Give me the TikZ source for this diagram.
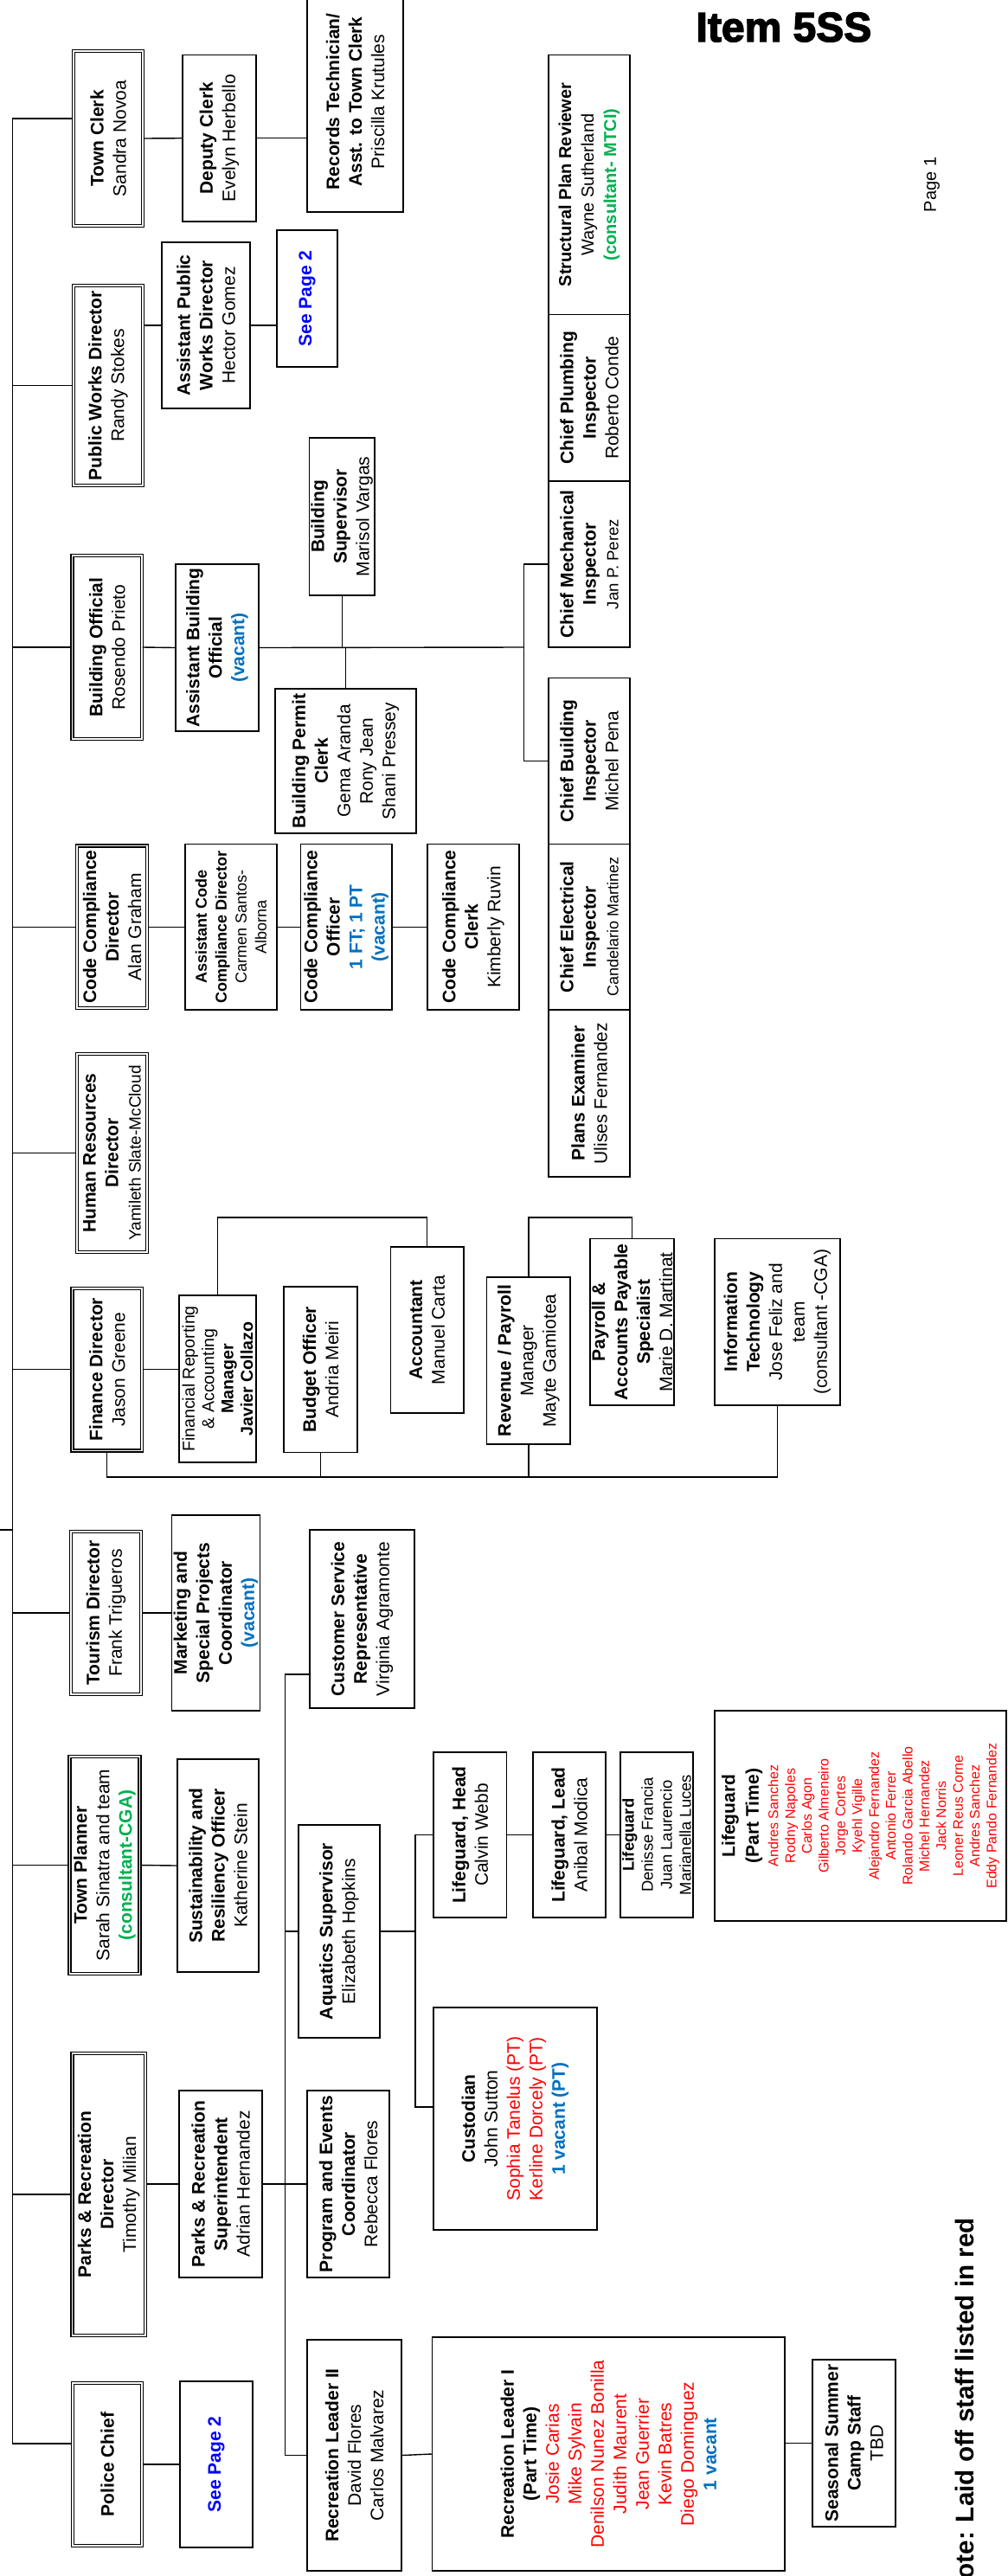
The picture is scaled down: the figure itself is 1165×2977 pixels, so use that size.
\documentclass[tikz,border=0pt]{standalone}
\usepackage{fontspec}
\setmainfont{Liberation Sans}
\newfontfamily\heavyfont{Liberation Sans}[BoldFeatures={FakeBold=3}]
\usetikzlibrary{calc}
\definecolor{seeblue}{RGB}{0,0,255}
\definecolor{vacblue}{RGB}{0,112,192}
\definecolor{consgreen}{RGB}{0,176,80}
\definecolor{laidred}{RGB}{255,0,0}
\newcommand{\vac}[1]{\textcolor{vacblue}{\textbf{#1}}}
\newcommand{\laid}[1]{\textcolor{laidred}{#1}}
\newcommand{\seepage}{\textcolor{seeblue}{\textbf{See Page 2}}}

\begin{document}
\begin{tikzpicture}[x=0.5pt, y=-0.5pt,
        every node/.style={font=\fontsize{10.5}{13}\selectfont},
        unit/.style={draw, line width=0.75pt, rotate=90, align=center, inner sep=1pt},
        dept/.style={unit, double, double distance=0.75pt},
        wh/.style 2 args={minimum height=#1*0.5pt, minimum width=#2*0.5pt},
        link/.style={line width=0.7pt}
      ]
        \useasboundingbox (0,0) rectangle (1165,2977);
        % Directors
        \node[dept, wh={80}{202}] (clerk) at (125,160) {\textbf{Town Clerk}\\Sandra Novoa};
        \node[dept, wh={80}{231}] (pwd) at (125,445.5) {\textbf{Public Works Director}\\Randy Stokes};
        \node[dept, wh={80.5}{212}] (bo) at (123.75,748) {\textbf{Building Official}\\Rosendo Prieto};
        \node[dept, wh={81}{187.5}] (ccd) at (129.5,1071.25) {\textbf{Code Compliance}\\\textbf{Director}\\Alan Graham};
        \node[dept, wh={81}{229}] (hrd) at (129.5,1332.5) {\textbf{Human Resources}\\\textbf{Director}\\{\fontsize{9.5}{13}\selectfont Yamileth Slate-McCloud}};
        \node[dept, wh={80.5}{187.5}] (fd) at (123.75,1582.75) {\textbf{Finance Director}\\Jason Greene};
        \node[dept, wh={81}{188}] (td) at (122.5,1864) {\textbf{Tourism Director}\\Frank Trigueros};
        \node[dept, wh={81}{251}] (tp) at (121,2155.5) {\textbf{Town Planner}\\Sarah Sinatra and team\\\textcolor{consgreen}{\textbf{(consultant-CGA)}}};
        \node[dept, wh={84.5}{326}] (prd) at (125.75,2536) {\textbf{Parks \& Recreation}\\\textbf{Director}\\Timothy Milian};
        \node[dept, wh={80}{188}] (pc) at (124,2848) {\textbf{Police Chief}};
        % Clerk and public works
        \node[unit, wh={85}{192.5}] (dclerk) at (253.5,159.75) {\textbf{Deputy Clerk}\\Evelyn Herbello};
        \node[unit, wh={111}{255}] (rectech) at (410.5,117.5) {\textbf{Records Technician/}\\\textbf{Asst. to Town Clerk}\\Priscilla Krutules};
        \node[unit, wh={102}{192}] (apwd) at (238,376) {\textbf{Assistant Public}\\\textbf{Works Director}\\Hector Gomez};
        \node[unit, wh={70}{158}] (pwsee) at (355,345) {\seepage};
        % Building
        \node[unit, wh={96}{193}] (abo) at (251,748.5) {\textbf{Assistant Building}\\\textbf{Official}\\\vac{(vacant)}};
        \node[unit, wh={74.5}{182}] (bsup) at (395.25,597) {\textbf{Building}\\\textbf{Supervisor}\\Marisol Vargas};
        \node[unit, wh={163}{167}] (bpc) at (399.5,879.5) {\textbf{Building Permit}\\\textbf{Clerk}\\Gema Aranda\\Rony Jean\\Shani Pressey};
        \node[unit, wh={94}{300}, font=\fontsize{10}{13}\selectfont] (spr) at (681,213.5) {\textbf{Structural Plan Reviewer}\\Wayne Sutherland\\\textcolor{consgreen}{\textbf{(consultant- MTCI)}}};
        \node[unit, wh={94}{192.5}] (cpi) at (681,459.75) {\textbf{Chief Plumbing}\\\textbf{Inspector}\\Roberto Conde};
        \node[unit, wh={94}{192}] (cmi) at (681,652) {\textbf{Chief Mechanical}\\\textbf{Inspector}\\{\fontsize{9.3}{13}\selectfont Jan P. Perez}};
        \node[unit, wh={94}{192}] (cbi) at (681,879.5) {\textbf{Chief Building}\\\textbf{Inspector}\\Michel Pena};
        \node[unit, wh={94}{191.5}] (cei) at (681,1071.25) {\textbf{Chief Electrical}\\\textbf{Inspector}\\{\fontsize{9}{13}\selectfont Candelario Martinez}};
        \node[unit, wh={94}{193}] (pex) at (681,1263.5) {\textbf{Plans Examiner}\\Ulises Fernandez};
        % Code compliance
        \node[unit, wh={106}{191.5}, font=\fontsize{9}{11.5}\selectfont] (accd) at (267,1071.25) {\textbf{Assistant Code}\\\textbf{Compliance Director}\\Carmen Santos-\\Alborna};
        \node[unit, wh={105.5}{191.5}] (cco) at (400.25,1071.25) {\textbf{Code Compliance}\\\textbf{Officer}\\\vac{1 FT; 1 PT}\\\vac{(vacant)}};
        \node[unit, wh={106}{191.5}] (ccc) at (547,1071.25) {\textbf{Code Compliance}\\\textbf{Clerk}\\Kimberly Ruvin};
        % Finance
        \node[unit, wh={89}{193}, font=\fontsize{9.8}{11.2}\selectfont] (fram) at (251.5,1593.5) {Financial Reporting\\\& Accounting\\\textbf{Manager}\\\textbf{Javier Collazo}};
        \node[unit, wh={85}{191.5}] (bud) at (370.5,1582.75) {\textbf{Budget Officer}\\Andria Meiri};
        \node[unit, wh={84.2}{192}] (acct) at (493.7,1537) {\textbf{Accountant}\\Manuel Carta};
        \node[unit, wh={96.3}{193}] (rev) at (610.85,1572.5) {\textbf{Revenue / Payroll}\\Manager\\Mayte Gamiotea};
        \node[unit, wh={97}{192.4}] (pap) at (730.5,1527.8) {\textbf{Payroll \&}\\\textbf{Accounts Payable}\\\textbf{Specialist}\\Marie D. Martinat};
        \node[unit, wh={145}{192.4}] (it) at (898.5,1527.8) {\textbf{Information}\\\textbf{Technology}\\Jose Feliz and\\team\\(consultant -CGA)};
        % Tourism and planning
        \node[unit, wh={99}{226}] (mkt) at (249.5,1864) {\textbf{Marketing and}\\\textbf{Special Projects}\\\textbf{Coordinator}\\\vac{(vacant)}};
        \node[unit, wh={94}{246}] (sro) at (252,2156) {\textbf{Sustainability and}\\\textbf{Resiliency Officer}\\Katherine Stein};
        % Parks and recreation
        \node[unit, wh={121}{206}] (csr) at (418.5,1871) {\textbf{Customer Service}\\\textbf{Representative}\\Virginia Agramonte};
        \node[unit, wh={94}{246}] (aqs) at (392,2232) {\textbf{Aquatics Supervisor}\\Elizabeth Hopkins};
        \node[unit, wh={84.5}{191}] (lgh) at (543.25,2120.5) {\textbf{Lifeguard, Head}\\Calvin Webb};
        \node[unit, wh={84}{191}] (lgl) at (658,2120.5) {\textbf{Lifeguard, Lead}\\Anibal Modica};
        \node[unit, wh={84}{191}, font=\fontsize{9.2}{11}\selectfont] (lg) at (759,2120.5) {\textbf{Lifeguard}\\Denisse Francia\\Juan Laurencio\\Marianella Luces};
        \node[unit, wh={337}{243}, text=laidred, font=\fontsize{8}{9.7}\selectfont] (lgpt) at (994.5,2098.5)
          {\textcolor{black}{\bfseries\fontsize{10.5}{13}\selectfont Lifeguard}\\[3pt]
           \textcolor{black}{\bfseries\fontsize{10.5}{13}\selectfont (Part Time)}\\[1.5pt]
           Andres Sanchez\\Rodny Napoles\\Carlos Agon\\Gilberto Almeneiro\\Jorge Cortes\\Kyehl Vigille\\Alejandro Fernandez\\
           Antonio Ferrer\\Rolando Garcia Abello\\Michel Hernandez\\Jack Norris\\Leoner Reus Corne\\Andres Sanchez\\Eddy Pando Fernandez};
        \node[unit, wh={189}{257}] (cust) at (595.5,2448.5) {\textbf{Custodian}\\John Sutton\\\laid{Sophia Tanelus (PT)}\\\laid{Kerline Dorcely (PT)}\\\vac{1 vacant (PT)}};
        \node[unit, wh={96}{216}] (prs) at (255,2524) {\textbf{Parks \& Recreation}\\\textbf{Superintendent}\\Adrian Hernandez};
        \node[unit, wh={95}{216}] (pec) at (402.5,2524) {\textbf{Program and Events}\\\textbf{Coordinator}\\Rebecca Flores};
        \node[unit, wh={109}{267}] (rl2) at (409.5,2837.5) {\textbf{Recreation Leader II}\\David Flores\\Carlos Malvarez};
        \node[unit, wh={407.5}{270}, text=laidred] (rl1) at (703.25,2836)
          {\textcolor{black}{\textbf{Recreation Leader I}}\\\textcolor{black}{\textbf{(Part Time)}}\\Josie Carias\\Mike Sylvain\\
           Denilson Nunez Bonilla\\Judith Maurent\\Jean Guerrier\\Kevin Batres\\Diego Dominguez\\\vac{1 vacant}};
        \node[unit, wh={96}{193}] (ssc) at (987,2823.5) {\textbf{Seasonal Summer}\\\textbf{Camp Staff}\\TBD};
        \node[unit, wh={84}{192}] (pcsee) at (250,2848) {\seepage};
        % Page texts
        \node[font=\heavyfont\bfseries\fontsize{24}{28}\selectfont] (item) at (906,31.5) {Item 5SS};
        \node[rotate=90, font=\fontsize{10}{12}\selectfont] (pg) at (1077,213.5) {Page 1};
        \node[rotate=90, anchor=east, font=\bfseries\fontsize{14.8}{18}\selectfont] (note) at (1115,2556) {Note: Laid off staff listed in red};

        % Trunk
        \coordinate (trunktop) at (14.5,137);
        \coordinate (trunkbot) at (14.5,2824);
        \coordinate (mgr) at (0,1768);
        \draw[link] (clerk.north |- trunktop) -| (trunkbot) -- (pc.north |- trunkbot);
        \draw[link] (mgr) -- (mgr -| trunktop);
        \foreach \d in {pwd,bo,ccd,hrd,fd,td,tp,prd}
          \draw[link] (\d.north) -- (\d.north -| trunktop);
        % Clerk / public works
        \draw[link] (clerk.south) -- (dclerk.north);
        \draw[link] (dclerk.south) -- (dclerk.south -| rectech.north);
        \draw[link] (apwd.north) -- (apwd.north -| pwd.south);
        \draw[link] (apwd.south) -- (apwd.south -| pwsee.north);
        % Building
        \coordinate (ibus) at (605.5,748);
        \draw[link] (bo.south) -- (abo.north);
        \draw[link] (abo.south) -- (ibus);
        \draw[link] (cmi.north) -| (ibus) |- (cbi.north);
        \draw[link] (bsup.west) -- (bsup.west |- ibus);
        \draw[link] (bpc.east) -- (bpc.east |- ibus);
        % Code compliance
        \draw[link] (ccd.south) -- (accd.north) (accd.south) -- (cco.north) (cco.south) -- (ccc.north);
        % Finance
        \coordinate (fbus) at (0,1707);
        \coordinate (fbr) at (0,1407);
        \draw[link] (fd.south) -- (fd.south -| fram.north);
        \draw[link] (fram.east) |- (fbr -| acct.east) -- (acct.east);
        \draw[link] (rev.east) |- (fbr -| pap.east) -- (pap.east);
        \draw[link] (fd.west) |- (fbus -| it.west) -- (it.west);
        \draw[link] (bud.west) -- (bud.west |- fbus);
        \draw[link] (rev.west) -- (rev.west |- fbus);
        % Tourism / planning
        \draw[link] (td.south) -- (mkt.north);
        \draw[link] (tp.south) -- (sro.north);
        % Parks and recreation
        \coordinate (csrc) at (329.5,1935);
        \coordinate (custc) at (480,2435);
        \draw[link] (prs.north) -- (prs.north -| prd.south);
        \draw[link] (prs.south) -- (pec.north);
        \draw[link] (csrc -| csr.north) -- (csrc) |- (rl2.north);
        \draw[link] (aqs.north) -- (aqs.north -| csrc);
        \draw[link] (aqs.south) -- (aqs.south -| custc);
        \draw[link] (lgh.north) -| (custc) -- (custc -| cust.north);
        \draw[link] (lgh.south) -- (lgl.north) (lgl.south) -- (lg.north);
        \draw[link] (rl2.south) -- (rl1.north);
        \draw[link] (ssc.north) -- (ssc.north -| rl1.south);
        \draw[link] (pc.south) -- (pcsee.north);
      \end{tikzpicture}
\end{document}
